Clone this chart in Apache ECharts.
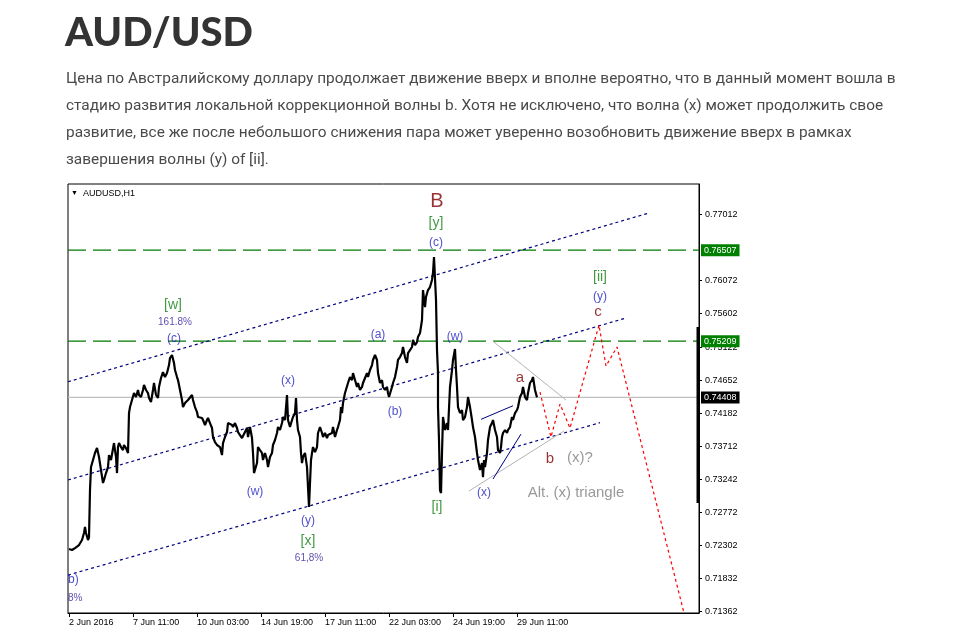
<!DOCTYPE html>
<html><head><meta charset="utf-8">
<script src="https://cdn.jsdelivr.net/npm/echarts@6/dist/echarts.min.js"></script>
<style>html,body{margin:0;padding:0;background:#fff}#c{width:965px;height:644px}</style>
</head><body><div id="c"></div>
<script>
// ---- data ----
const pageTitle = 'AUD/USD';
const pageText = [
 'Цена по Австралийскому доллару продолжает движение вверх и вполне вероятно, что в данный момент вошла в',
 'стадию развития локальной коррекционной волны b. Хотя не исключено, что волна (x) может продолжить свое',
 'развитие, все же после небольшого снижения пара может уверенно возобновить движение вверх в рамках',
 'завершения волны (y) of [ii].'
];
const chartName = 'AUDUSD,H1';
// x: hourly bar number from the left edge of the chart
const timeTickBars = [1, 65, 129, 193, 257, 321, 385, 449];
const timeTickLabels = ['2 Jun 2016','7 Jun 11:00','10 Jun 03:00','14 Jun 19:00','17 Jun 11:00','22 Jun 03:00','24 Jun 19:00','29 Jun 11:00'];
const priceTicks = [0.71362,0.71832,0.72302,0.72772,0.73242,0.73712,0.74182,0.74652,0.75122,0.75602,0.76072,0.77012];
const barCount = 631;
const priceLow = 0.71334, priceHigh = 0.77450;

const priceBar = [1,4,7,11,14,16,17,18,20,21,22,23,25,27,29,31,33,35,36,38,40,41,43,46,48,49,50,51,53,55,56,58,60,61,62,64,66,68,70,71,73,75,76,78,80,81,83,85,86,88,90,91,93,95,97,99,101,102,104,105,106,107,109,110,112,114,115,117,119,120,122,124,125,127,129,130,132,134,135,137,139,140,142,144,145,147,149,150,152,154,155,157,159,160,162,164,165,167,169,170,172,174,175,177,179,180,182,184,185,186,187,189,190,192,194,195,197,199,200,202,204,205,207,209,210,212,214,215,217,219,220,222,224,225,227,228,229,230,232,233,234,235,237,239,240,241,242,243,244,245,247,249,250,252,254,255,257,259,260,262,264,265,267,269,270,272,273,274,275,277,278,280,282,284,285,287,289,290,292,294,295,297,299,300,302,304,305,307,309,310,312,314,315,317,319,320,321,324,325,327,329,330,332,334,335,337,339,340,342,344,345,347,349,350,352,354,355,357,358,360,362,364,365,366,367,368,369,370,370,371,372,373,374,375,377,379,380,382,384,385,387,388,389,390,392,394,395,397,399,400,402,404,405,407,409,410,412,414,415,416,417,419,420,422,424,425,427,429,430,432,433,434,435,437,439,440,442,444,445,447,449,450,452,454,455,457,459,460,462,464,465,467,469];
const priceValue = [0.72246,0.72232,0.72260,0.72303,0.72374,0.72474,0.72560,0.72474,0.72374,0.72417,0.73087,0.73415,0.73515,0.73615,0.73686,0.73558,0.73372,0.73187,0.73230,0.73329,0.73415,0.73586,0.73515,0.73757,0.73558,0.73329,0.73700,0.73757,0.73700,0.73657,0.73729,0.73686,0.73615,0.74185,0.74270,0.74370,0.74470,0.74413,0.74513,0.74442,0.74413,0.74513,0.74584,0.74513,0.74470,0.74399,0.74342,0.74513,0.74613,0.74442,0.74399,0.74556,0.74684,0.74769,0.74698,0.74755,0.74869,0.74969,0.75012,0.75040,0.74898,0.74798,0.74698,0.74655,0.74513,0.74370,0.74270,0.74327,0.74299,0.74370,0.74342,0.74442,0.74370,0.74270,0.74199,0.74128,0.74156,0.74114,0.74085,0.74014,0.74085,0.74114,0.74042,0.73971,0.73843,0.73771,0.73729,0.73757,0.73700,0.73586,0.73757,0.73843,0.73914,0.74042,0.74057,0.74014,0.73985,0.74042,0.73971,0.73914,0.73871,0.73828,0.73800,0.73914,0.73971,0.73843,0.73985,0.73828,0.73615,0.73329,0.73301,0.73472,0.73700,0.73657,0.73615,0.73515,0.73615,0.73515,0.73415,0.73558,0.73615,0.73729,0.73800,0.73900,0.73985,0.73943,0.74042,0.74128,0.74085,0.74442,0.74085,0.73985,0.74085,0.74128,0.74185,0.74399,0.74085,0.73943,0.73843,0.73615,0.73472,0.73558,0.73615,0.73415,0.73130,0.72845,0.73187,0.73515,0.73615,0.73700,0.73629,0.73700,0.73900,0.73985,0.73900,0.73843,0.73900,0.73828,0.73871,0.73843,0.73900,0.73985,0.73843,0.73943,0.73985,0.74085,0.74270,0.74185,0.74327,0.74470,0.74484,0.74613,0.74698,0.74655,0.74755,0.74655,0.74556,0.74613,0.74513,0.74556,0.74613,0.74684,0.74755,0.74698,0.74798,0.74869,0.74941,0.75012,0.74941,0.74755,0.74613,0.74655,0.74556,0.74513,0.74556,0.74470,0.74413,0.74556,0.74613,0.74698,0.74841,0.74941,0.74983,0.75040,0.75126,0.74983,0.74898,0.75040,0.75083,0.75126,0.75226,0.75154,0.75197,0.75268,0.75325,0.75511,0.75938,0.75696,0.75839,0.75938,0.75981,0.76081,0.76181,0.76409,0.76437,0.75796,0.75083,0.74755,0.74270,0.73800,0.73087,0.73044,0.73615,0.74128,0.73943,0.74042,0.73943,0.74556,0.74798,0.74941,0.75097,0.74798,0.74556,0.74270,0.74185,0.74228,0.74085,0.74128,0.74270,0.74413,0.74270,0.74085,0.73985,0.73843,0.73615,0.73515,0.73372,0.73472,0.73272,0.73515,0.73415,0.73615,0.73800,0.73985,0.74042,0.74085,0.73943,0.73843,0.73657,0.73615,0.73700,0.73843,0.73900,0.73943,0.73900,0.73943,0.73985,0.74128,0.74085,0.74185,0.74228,0.74270,0.74413,0.74470,0.74556,0.74413,0.74370,0.74470,0.74613,0.74655,0.74698,0.74513,0.74408];

const lastPrice = 0.74408;
const levelGreen = [0.76507, 0.75209];

const projectionBar = [472, 483, 492, 502, 531, 538, 549, 616];
const projectionValue = [0.74484, 0.73843, 0.74313, 0.73971, 0.75439, 0.74855, 0.75126, 0.71334];

const channelUpper = [[0, 0.74631], [580, 0.77032]];
const channelMiddle = [[0, 0.73230], [557, 0.75535]];
const channelLower = [[0, 0.71875], [532, 0.74047]];
const wedgeTop = [[413, 0.74095], [445, 0.74289]];
const wedgeBottom = [[425, 0.73244], [453, 0.73885]];
const triangleTop = [[425, 0.75207], [498, 0.74370]];
const triangleBottom = [[401, 0.73073], [496, 0.73928]];
const rightEdgeBar = [[630, 0.72902], [630, 0.75411]];

const waveText  = ['B','[y]','(c)','[w]','161.8%','(c)','(x)','(a)','(w)','(b)','(w)','(y)','[x]','61,8%','[i]','(x)','a','b','(x)?','Alt. (x) triangle','[ii]','(y)','c','b)','8%'];
const waveBar   = [369,368,368,105,107,106,220,310,387,327,187,240,240,241,369,416,452,482,512,508,532,532,530,0,0];
const wavePrice = [0.77207,0.76894,0.76609,0.75725,0.75482,0.75240,0.74641,0.75297,0.75268,0.74199,0.73059,0.72645,0.72360,0.72118,0.72845,0.73044,0.74684,0.73529,0.73543,0.73044,0.76124,0.75839,0.75625,0.71804,0.71547];
const waveKind  = ['big','green','blue','green','pct','blue','blue','blue','blue','blue','blue','blue','green','pct','green','blue','red','red','gray','gray','green','blue','red','blueL','pctL'];

// ---- styles ----
const kindStyle = {
  big:   {color:'#800000', fontSize:20},
  green: {color:'#138013', fontSize:14},
  blue:  {color:'#2222c4', fontSize:12},
  blueL: {color:'#2222c4', fontSize:12, align:'left'},
  pct:   {color:'#2e1e9a', fontSize:10},
  pctL:  {color:'#2e1e9a', fontSize:10, align:'left'},
  red:   {color:'#800000', fontSize:15},
  gray:  {color:'#808080', fontSize:15}
};
const font = '"Liberation Sans", Arial, sans-serif';
const pairs = (xs, ys) => xs.map((x, i) => [x, ys[i]]);
const seg = (data, color, type, width) => ({
  type:'line', data, showSymbol:false, symbol:'none', silent:true, z:3,
  lineStyle:{color, type, width}
});
const level = (value, color, type, boxColor) => ({
  type:'line', data:[[0, value], [barCount, value]], showSymbol:false, symbol:'none', silent:true, z:2,
  lineStyle:{color, type, width:1.2},
  endLabel:{show:true, distance:2, formatter:value.toFixed(5), backgroundColor:boxColor, color:'#fff',
    padding:[2,3,1,3], fontSize:9, fontFamily:font}
});

const chart = echarts.init(document.getElementById('c'), null, {renderer:'canvas'});
chart.setOption({
  animation:false,
  backgroundColor:'#fff',
  title:[
    {text:pageTitle, left:65, top:13, padding:0, textStyle:{fontFamily:'Lato', fontWeight:900, fontSize:40, color:'#333'}},
    {text:pageText.join('\n'), left:66, top:66, padding:0, textStyle:{fontFamily:'Roboto', fontWeight:'normal', fontSize:15.4, lineHeight:27, color:'#4a4a4a'}},
    {text:'{t|▼}  ' + chartName, left:71, top:189, padding:0, textStyle:{fontFamily:font, fontWeight:'normal', fontSize:9, color:'#000', rich:{t:{fontSize:7, color:'#000'}}}}
  ],
  grid:{left:68, top:184, width:631, height:429, show:true, borderColor:'#000', borderWidth:1, backgroundColor:'#fff'},
  xAxis:{
    type:'value', min:0, max:barCount, position:'bottom',
    axisLine:{show:true, onZero:false, lineStyle:{color:'#000', width:1}},
    axisTick:{show:true, customValues:timeTickBars, length:4, lineStyle:{color:'#000'}},
    axisLabel:{show:true, customValues:timeTickBars, align:'left', margin:5, fontSize:9, fontFamily:font, color:'#000',
      formatter:v => timeTickLabels[timeTickBars.indexOf(v)] || ''},
    splitLine:{show:false}
  },
  yAxis:{
    type:'value', min:priceLow, max:priceHigh, position:'right',
    axisLine:{show:true, onZero:false, lineStyle:{color:'#000', width:1}},
    axisTick:{show:true, customValues:priceTicks, length:3, lineStyle:{color:'#000'}},
    axisLabel:{show:true, customValues:priceTicks, margin:6, fontSize:9, fontFamily:font, color:'#000',
      formatter:v => v.toFixed(5)},
    splitLine:{show:false}
  },
  series:[
    level(lastPrice, '#c0c0c0', 'solid', '#000'),
    level(levelGreen[0], '#007a00', [18,7], '#008000'),
    level(levelGreen[1], '#007a00', [18,7], '#008000'),
    seg(channelUpper, '#000080', [3,3], 1.2),
    seg(channelMiddle, '#000080', [3,3], 1.2),
    seg(channelLower, '#000080', [3,3], 1.2),
    seg(triangleTop, '#b4b4b4', 'solid', 1),
    seg(triangleBottom, '#b4b4b4', 'solid', 1),
    seg(wedgeTop, '#000080', 'solid', 1),
    seg(wedgeBottom, '#000080', 'solid', 1),
    {
      type:'line', data:pairs(priceBar, priceValue), showSymbol:false, symbol:'none', z:5, silent:true,
      lineStyle:{color:'#000', width:2.2}
    },
    seg(pairs(projectionBar, projectionValue), '#ff0000', [3,3], 1.2),
    {type:'line', data:rightEdgeBar, showSymbol:false, symbol:'none', silent:true, clip:false, z:4, lineStyle:{color:'#000', width:3}},
    {
      type:'scatter', symbolSize:1, itemStyle:{color:'rgba(0,0,0,0)'}, z:6, silent:true, clip:false,
      data: waveText.map((t, i) => ({
        value:[waveBar[i], wavePrice[i]], name:t,
        label:Object.assign({show:true, position:'inside', formatter:t, fontFamily:font}, kindStyle[waveKind[i]])
      }))
    }
  ]
});
</script>
</body></html>
